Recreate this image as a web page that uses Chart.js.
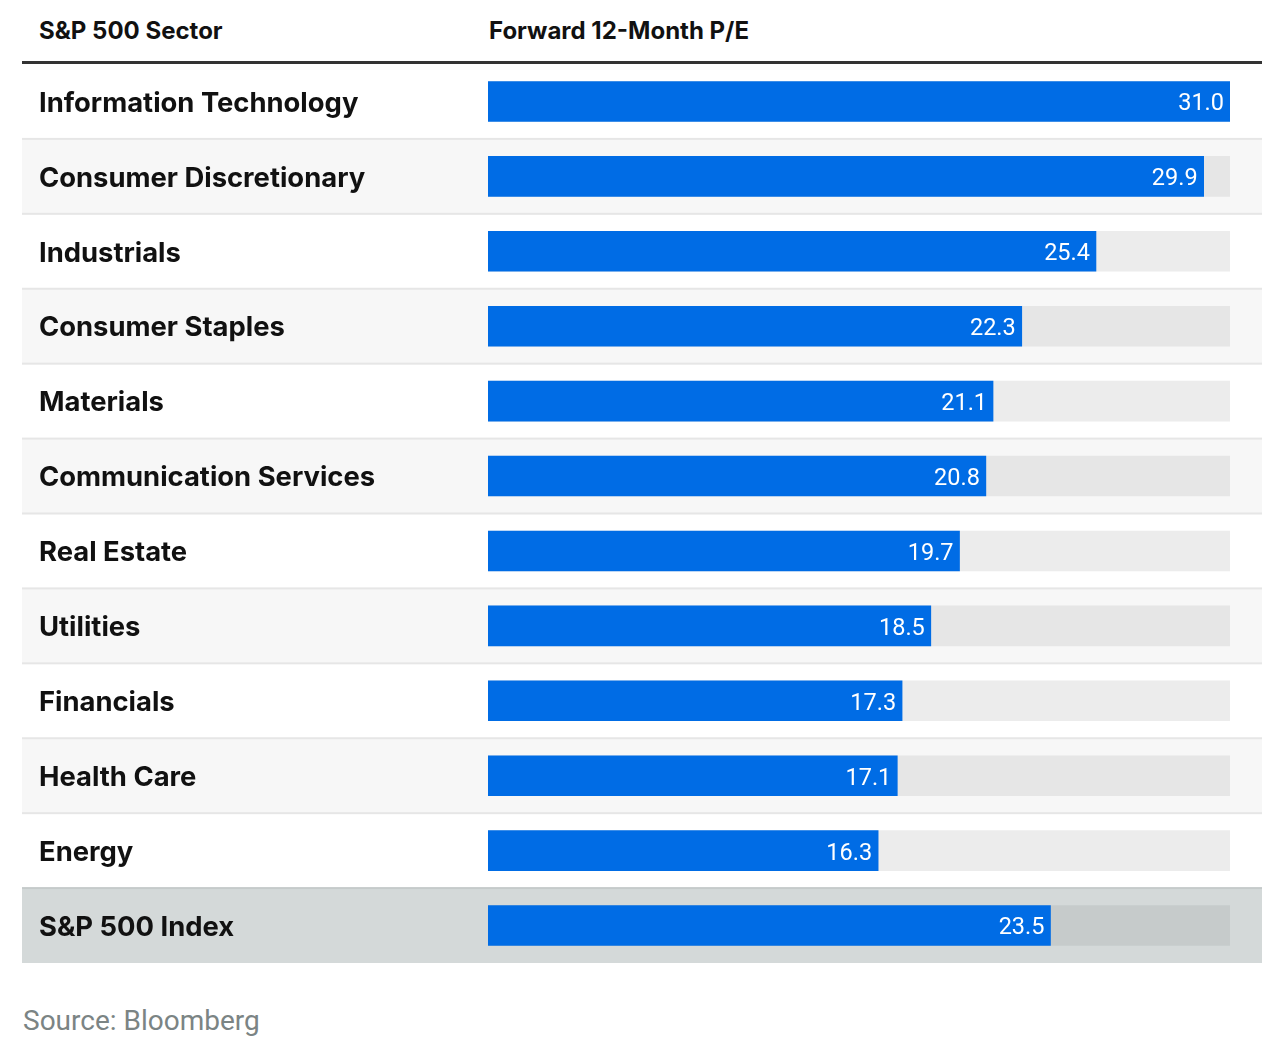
<!DOCTYPE html>
<html>
<head>
<meta charset="utf-8">
<script src="https://cdn.jsdelivr.net/npm/chart.js@4.4.1/dist/chart.umd.min.js"></script>
<style>
  html, body { margin: 0; padding: 0; background: #fff; }
  body { width: 1284px; height: 1052px; position: relative; font-family: Inter, "Noto Sans", sans-serif; }
  .hdr { position: absolute; top: 16px; font-weight: 700; font-size: 24px; color: #111; line-height: 30px; }
  .rule { position: absolute; left: 22px; top: 61px; width: 1240px; height: 3px; background: #333; }
  #wrap { position: absolute; left: 22px; top: 64px; width: 1240px; height: 899px; }
  .src { position: absolute; left: 23px; top: 1004px; font-size: 28px; color: #7b8484; font-family: Roboto, sans-serif; line-height: 34px; }
</style>
</head>
<body>
<div class="hdr" style="left:39px">S&amp;P 500 Sector</div>
<div class="hdr" style="left:489px">Forward 12-Month P/E</div>
<div class="rule"></div>
<div id="wrap"><canvas id="c"></canvas></div>
<div class="src">Source: Bloomberg</div>
<script>
const sectors = ["Information Technology","Consumer Discretionary","Industrials","Consumer Staples","Materials","Communication Services","Real Estate","Utilities","Financials","Health Care","Energy","S&P 500 Index"];
const peValues = [31.0, 29.9, 25.4, 22.3, 21.1, 20.8, 19.7, 18.5, 17.3, 17.1, 16.3, 23.5];
const scaleMax = 31.0;
const trackValues = sectors.map(() => scaleMax);

const rowBg = (i) => i === sectors.length - 1 ? '#d4d9d9' : (i % 2 === 0 ? '#ffffff' : '#f7f7f7');
const trackBg = (i) => i === sectors.length - 1 ? '#c6cbcb' : (i % 2 === 0 ? '#ececec' : '#e6e6e6');

const rowPlugin = {
  id: 'rows',
  beforeDraw(chart) {
    const ctx = chart.ctx, y = chart.scales.y, W = chart.width;
    const n = sectors.length;
    const band = (y.bottom - y.top) / n;
    ctx.save();
    for (let i = 0; i < n; i++) {
      const c = y.getPixelForValue(i);
      const top = c - band / 2;
      ctx.fillStyle = rowBg(i);
      ctx.fillRect(0, top, W, band);
      if (i > 0) {
        ctx.fillStyle = i === n - 1 ? '#c5caca' : '#e6e6e6';
        ctx.fillRect(0, top - 1, W, 2);
      }
    }
    ctx.restore();
  },
  afterDatasetsDraw(chart) {
    const ctx = chart.ctx;
    const meta = chart.getDatasetMeta(1);
    ctx.save();
    ctx.font = '23.5px Roboto, sans-serif';
    ctx.fillStyle = '#ffffff';
    ctx.textAlign = 'right';
    ctx.textBaseline = 'middle';
    meta.data.forEach((bar, i) => {
      ctx.fillText(peValues[i].toFixed(1), bar.x - 6, bar.y + 3);
    });
    ctx.restore();
  }
};

new Chart(document.getElementById('c'), {
  type: 'bar',
  data: {
    labels: sectors,
    datasets: [
      { data: trackValues, backgroundColor: sectors.map((_, i) => trackBg(i)), barThickness: 40, grouped: false, order: 2 },
      { data: peValues, backgroundColor: '#006ce5', barThickness: 40, grouped: false, order: 1 }
    ]
  },
  options: {
    indexAxis: 'y',
    responsive: true,
    maintainAspectRatio: false,
    animation: false,
    layout: { padding: { left: 17, right: 32, top: 0, bottom: 0 } },
    plugins: { legend: { display: false }, tooltip: { enabled: false } },
    scales: {
      x: { display: false, min: 0, max: scaleMax },
      y: {
        grid: { display: false }, border: { display: false },
        ticks: { crossAlign: 'far', color: '#111', padding: 0, labelOffset: 2,
          font: { family: 'Inter, sans-serif', size: 27.4, weight: 'bold' } },
        afterFit(scale) { scale.width = 449; scale.paddingTop = 0; scale.paddingBottom = 0; }
      }
    }
  },
  plugins: [rowPlugin]
});
</script>
</body>
</html>
